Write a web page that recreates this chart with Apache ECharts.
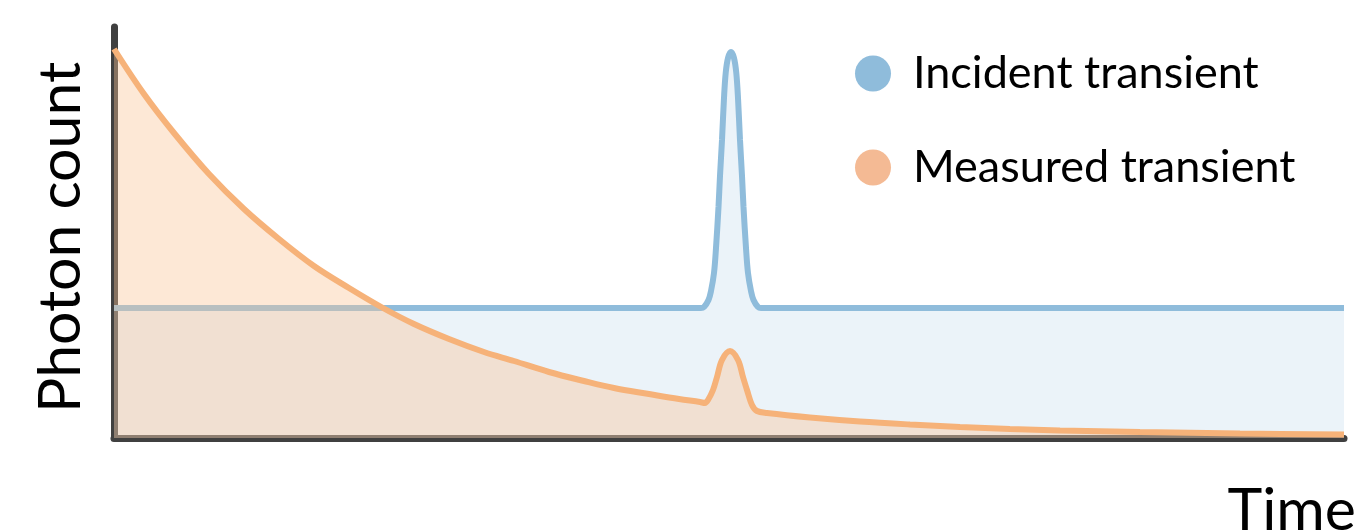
<!DOCTYPE html>
<html>
<head>
<meta charset="utf-8">
<script src="https://cdn.jsdelivr.net/npm/echarts@6/dist/echarts.min.js"></script>
<style>
html,body{margin:0;padding:0;background:#fff;}
#chart{width:1363px;height:530px;}
</style>
</head>
<body>
<div id="chart"></div>
<script>
// Time axis (arbitrary units) and photon counts
const seriesNames = ['Incident transient', 'Measured transient'];
const axisNames = { x: 'Time', y: 'Photon count' };

const incidentTime  = [0, 587, 590, 594.5, 597, 600, 602, 604.5, 606, 608, 610, 611.7, 614, 617, 620, 622.3, 624, 626, 628, 629.5, 632, 634, 637, 639.5, 644, 647, 1230];
const incidentCount = [130, 130, 131, 138, 147, 165, 190, 231, 262, 298, 340, 365, 380, 386, 380, 365, 340, 298, 262, 231, 190, 165, 147, 138, 131, 130, 130];

const measuredTime  = [0, 30, 60, 95, 130, 165, 200, 235, 269, 300, 335, 370, 400, 435, 470, 500, 535, 565, 586, 591, 594, 599, 603, 608, 616, 624, 629, 633, 638, 643, 653, 696, 746, 796, 846, 896, 946, 1026, 1126, 1230];
const measuredCount = [389, 344, 305, 264, 229, 199, 172, 150, 130, 114, 99, 86, 77, 66, 57, 50, 44, 39, 36, 35, 38, 48, 61, 78, 87, 78, 61, 48, 33, 27, 25, 20.5, 16.5, 13.5, 11, 9, 7.5, 6, 4.5, 3.5];

const FONT = 'Lato';

function pairs(xs, ys) { return xs.map((x, i) => [x, ys[i]]); }

const chart = echarts.init(document.getElementById('chart'), null, { renderer: 'canvas' });
chart.setOption({
  animation: false,
  backgroundColor: '#ffffff',
  textStyle: { fontFamily: FONT },
  grid: { left: 114, right: 19, top: 27, bottom: 92, containLabel: false, outerBoundsMode: 'none' },
  legend: {
    orient: 'vertical',
    left: 855,
    top: 51,
    padding: 0,
    itemWidth: 36,
    itemHeight: 36,
    itemGap: 49,
    icon: 'circle',
    selectedMode: false,
    textStyle: { fontFamily: FONT, fontSize: 45, color: '#000000', padding: [0, 0, 0, 17] },
    data: seriesNames
  },
  xAxis: {
    type: 'value',
    min: 0,
    max: 1230,
    name: axisNames.x,
    nameLocation: 'end',
    nameGap: 12,
    nameTextStyle: { fontFamily: FONT, fontSize: 59, color: '#000000', align: 'right', verticalAlign: 'top', padding: [43, 0, 0, 0] },
    axisLine: { show: true, lineStyle: { color: '#404040', width: 7 } },
    axisTick: { show: false },
    axisLabel: { show: false },
    splitLine: { show: false }
  },
  yAxis: {
    type: 'value',
    min: 0,
    max: 411,
    name: axisNames.y,
    nameLocation: 'middle',
    nameRotate: 90,
    nameGap: 24,
    nameTextStyle: { fontFamily: FONT, fontSize: 59, color: '#000000', padding: [0, 10, 0, 0] },
    axisLine: { show: true, lineStyle: { color: '#404040', width: 7 } },
    axisTick: { show: false },
    axisLabel: { show: false },
    splitLine: { show: false }
  },
  series: [
    {
      name: seriesNames[0],
      type: 'line',
      data: pairs(incidentTime, incidentCount),
      showSymbol: false,
      smooth: 0.35,
      itemStyle: { color: '#8fbcdb' },
      lineStyle: { color: '#8fbcdb', width: 6 },
      areaStyle: { color: 'rgba(143,188,219,0.25)' },
      z: 2
    },
    {
      name: seriesNames[1],
      type: 'line',
      data: pairs(measuredTime, measuredCount),
      showSymbol: false,
      smooth: 0.35,
      itemStyle: { color: '#f4ba94' },
      lineStyle: { color: '#f6b279', width: 6 },
      areaStyle: { color: 'rgba(250,196,148,0.55)' },
      z: 3
    }
  ]
});
</script>
</body>
</html>
